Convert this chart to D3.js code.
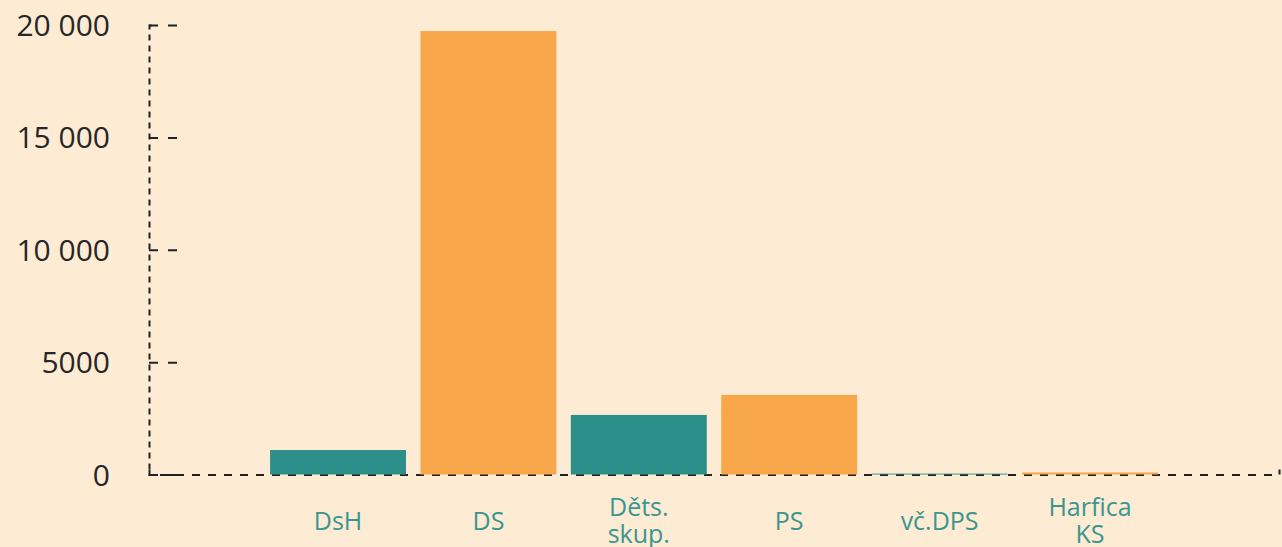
<!DOCTYPE html>
<html lang="cs">
<head>
<meta charset="UTF-8" />
<title>Počty</title>
<script src="https://d3js.org/d3.v7.js"></script>
<style>
    body { margin: 0; background: #fdebd4; }
    svg { display: block; }
</style>
</head>
<body>
<script>
    // data
    var categories = ["DsH", "DS", "Děts.\nskup.", "PS", "vč.DPS", "Harfica\nKS"];
    var values = [1090, 19730, 2650, 3540, 40, 90];
    var colors = ["#2c8f89", "#f9a74b", "#2c8f89", "#f9a74b", "#2c8f89", "#f9a74b"];
    var yTicks = [0, 5000, 10000, 15000, 20000];
    var yTickLabels = ["0", "5000", "10 000", "15 000", "20 000"];

    var w = 1282;
    var h = 547;
    // plot edges (avoid "top", it is window.top)
    var plotLeft = 149, plotRight = 1279, plotTop = 25, plotBottom = 474.5;

    var svg = d3.select("body")
                .append("svg")
                .attr("width", w)
                .attr("height", h);

    var xScale = d3.scaleBand()
        .domain(d3.range(categories.length))
        .range([plotLeft, plotRight])
        .paddingInner(0.096)
        .paddingOuter(0.805);

    var yScale = d3.scaleLinear()
        .domain([0, 20000])
        .range([plotBottom, plotTop]);

    // y axis, ticks pointing into the plot
    var yAxis = d3.axisLeft(yScale)
        .tickValues(yTicks)
        .tickSizeInner(-28)
        .tickSizeOuter(-6)
        .tickPadding(39)
        .tickFormat(function(d, i){ return yTickLabels[i]; });

    var gy = svg.append("g")
        .attr("transform", "translate(" + plotLeft + ",0)")
        .call(yAxis);
    gy.select(".domain")
        .attr("stroke", "#222")
        .attr("stroke-width", 2)
        .attr("stroke-dasharray", "6,5");
    gy.selectAll(".tick line")
        .attr("stroke", "#222")
        .attr("stroke-width", 2)
        .attr("stroke-dasharray", "9,10");
    gy.selectAll(".tick text")
        .attr("fill", "#262626")
        .attr("dy", "0.35em")
        .style("font-family", "'Open Sans', sans-serif")
        .style("font-size", "30px");

    // x axis
    var xAxis = d3.axisBottom(xScale)
        .tickSizeInner(0)
        .tickSizeOuter(-5)
        .tickFormat("");

    var gx = svg.append("g")
        .attr("transform", "translate(0," + plotBottom + ")")
        .call(xAxis);
    gx.select(".domain")
        .attr("stroke", "#222")
        .attr("stroke-width", 2)
        .attr("stroke-dasharray", "8,8");
    gx.selectAll(".tick line").remove();

    gx.selectAll(".tick text")
        .attr("fill", "#3a968f")
        .attr("y", 0)
        .attr("dy", null)
        .style("font-family", "'Open Sans', sans-serif")
        .style("font-size", "25px")
        .each(function(d){
            var lines = categories[d].split("\n");
            var t = d3.select(this);
            var y0 = lines.length == 1 ? 55.5 : 41.5;
            lines.forEach(function(l, j){
                t.append("tspan")
                    .attr("x", 0)
                    .attr("y", y0 + j * 27)
                    .text(l);
            });
        });

    // bars
    svg.selectAll("rect.bar")
        .data(values)
        .enter()
        .append("rect")
        .attr("class", "bar")
        .attr("x", function(d, i){ return xScale(i); })
        .attr("y", function(d){ return yScale(d); })
        .attr("width", xScale.bandwidth())
        .attr("height", function(d){ return plotBottom - yScale(d); })
        .attr("fill", function(d, i){ return colors[i]; });
</script>
</body>
</html>
